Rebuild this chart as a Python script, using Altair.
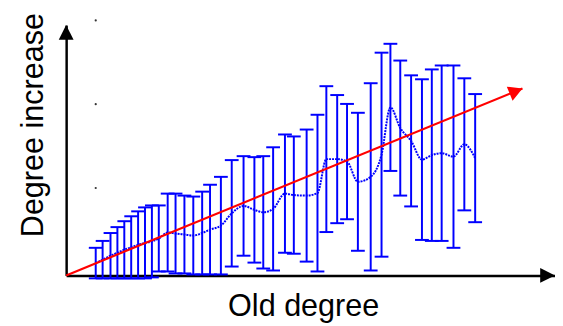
import math
import altair as alt
import pandas as pd

# ---- data ----
old_degree = [3.0, 3.7, 4.5, 5.2, 5.9, 6.6, 7.3, 8.0, 8.7, 9.4,
              10.3, 11.1, 12.0, 12.9, 13.8, 14.6, 15.7, 16.8, 18.0, 19.1,
              20.0, 21.0, 22.2, 23.1, 24.4, 25.5, 26.4, 27.5, 28.5, 29.6,
              30.9, 32.0, 32.9, 33.9, 35.0, 36.1, 37.1, 38.1, 39.3, 40.4, 41.5]
mean_increase = [1.25, 1.6, 2.0, 2.3, 2.6, 2.85, 3.1, 3.3, 3.45, 3.75,
                 4.35, 4.25, 4.15, 4.05, 4.3, 4.65, 5.05, 6.3, 7.05, 6.65,
                 6.4, 6.75, 8.3, 8.15, 8.1, 8.35, 11.8, 11.8, 11.55, 9.5,
                 10.0, 12.25, 17.05, 14.95, 13.65, 11.75, 12.2, 12.4, 12.05, 13.3, 11.9]
std_increase = [1.55, 1.9, 2.3, 2.6, 2.9, 3.15, 3.4, 3.6, 3.65, 3.35,
                3.95, 4.05, 3.95, 3.95, 4.2, 4.55, 4.95, 5.4, 5.05, 5.35,
                5.7, 6.25, 6.0, 5.95, 6.7, 7.95, 7.4, 6.5, 5.85, 7.0,
                9.5, 10.35, 6.45, 6.85, 6.65, 8.15, 8.7, 8.9, 9.25, 6.7, 6.5]

trend_u = [0.0, 46.3]
trend_v = [0.0, 18.97]

tick_dot_u = [3.0, 3.0, 3.0]
tick_dot_v = [8.87, 17.37, 25.87]

x_label = "Old degree"
y_label = "Degree increase"

# ---- tables ----
df = pd.DataFrame({"u": old_degree, "v": mean_increase, "s": std_increase})
df["vlo"] = df["v"] - df["s"]
df["vhi"] = df["v"] + df["s"]
trend = pd.DataFrame({"u": trend_u, "v": trend_v})
dots = pd.DataFrame({"u": tick_dot_u, "v": tick_dot_v})

W, H = 496, 254
xscale = alt.Scale(domain=[0, 49.6], nice=False, zero=False)
yscale = alt.Scale(domain=[0, 25.4], nice=False, zero=False)
FONT = "Liberation Sans"

xaxis = alt.Axis(title=x_label, domain=True, domainColor="black", domainWidth=2.5,
                 ticks=False, labels=False, grid=False,
                 titleFont=FONT, titleFontSize=31, titleFontWeight="normal",
                 titleColor="black", titleX=240.5, titleY=41,
                 titleBaseline="alphabetic", titleAlign="center")
yaxis = alt.Axis(title=y_label, domain=True, domainColor="black", domainWidth=2.5,
                 ticks=False, labels=False, grid=False,
                 titleFont=FONT, titleFontSize=31, titleFontWeight="normal",
                 titleColor="black", titleX=-24, titleY=101, titleAngle=270,
                 titleBaseline="alphabetic", titleAlign="center")


def X(f):
    return alt.X(f"{f}:Q", scale=xscale, axis=xaxis)


def Y(f):
    return alt.Y(f"{f}:Q", scale=yscale, axis=yaxis)


BLUE = "#0000ff"
RED = "#ff0000"

stems = alt.Chart(df).mark_rule(color=BLUE, strokeWidth=2).encode(
    x=X("u"), y=Y("vlo"), y2="vhi")
caps_top = alt.Chart(df).mark_tick(color=BLUE, orient="horizontal", size=14,
                                   thickness=2, opacity=1).encode(x=X("u"), y=Y("vhi"))
caps_bot = alt.Chart(df).mark_tick(color=BLUE, orient="horizontal", size=14,
                                   thickness=2, opacity=1).encode(x=X("u"), y=Y("vlo"))
mean_line = alt.Chart(df).mark_line(color=BLUE, strokeWidth=2, interpolate="monotone",
                                    strokeDash=[2, 1]).encode(x=X("u"), y=Y("v"))

trend_line = alt.Chart(trend).mark_line(color=RED, strokeWidth=2.2).encode(
    x=X("u"), y=Y("v"))
angle = (360 - math.degrees(math.atan2(trend_v[1] - trend_v[0], trend_u[1] - trend_u[0]))) % 360
head_path = "M0,0L-2,-1.1L-2,1.1Z"
trend_head = alt.Chart(trend.iloc[[1]]).mark_point(
    shape=head_path, filled=True, size=196, color=RED, opacity=1, strokeWidth=0,
    angle=angle).encode(x=X("u"), y=Y("v"))

dot_layer = alt.Chart(dots).mark_point(filled=True, size=5, color="#333333",
                                       opacity=1, strokeWidth=0).encode(x=X("u"), y=Y("v"))

axis_head = "M0,0L-2,-1L-2,1Z"
x_head = alt.Chart(trend.iloc[[0]]).mark_point(
    shape=axis_head, filled=True, size=225, color="black", opacity=1, strokeWidth=0,
    angle=0).encode(x=alt.value(W), y=alt.value(H))
y_head = alt.Chart(trend.iloc[[0]]).mark_point(
    shape=axis_head, filled=True, size=225, color="black", opacity=1, strokeWidth=0,
    angle=270).encode(x=alt.value(0), y=alt.value(0))

chart = alt.layer(stems, caps_top, caps_bot, mean_line, trend_line, trend_head,
                  dot_layer, x_head, y_head).properties(
    width=W, height=H,
    autosize=alt.AutoSizeParams(type="none"),
    padding={"left": 59, "top": 15, "right": 0, "bottom": 49},
    background="white",
).configure_view(strokeWidth=0)

chart.save("out.html", embed_options={"renderer": "svg", "actions": False})
